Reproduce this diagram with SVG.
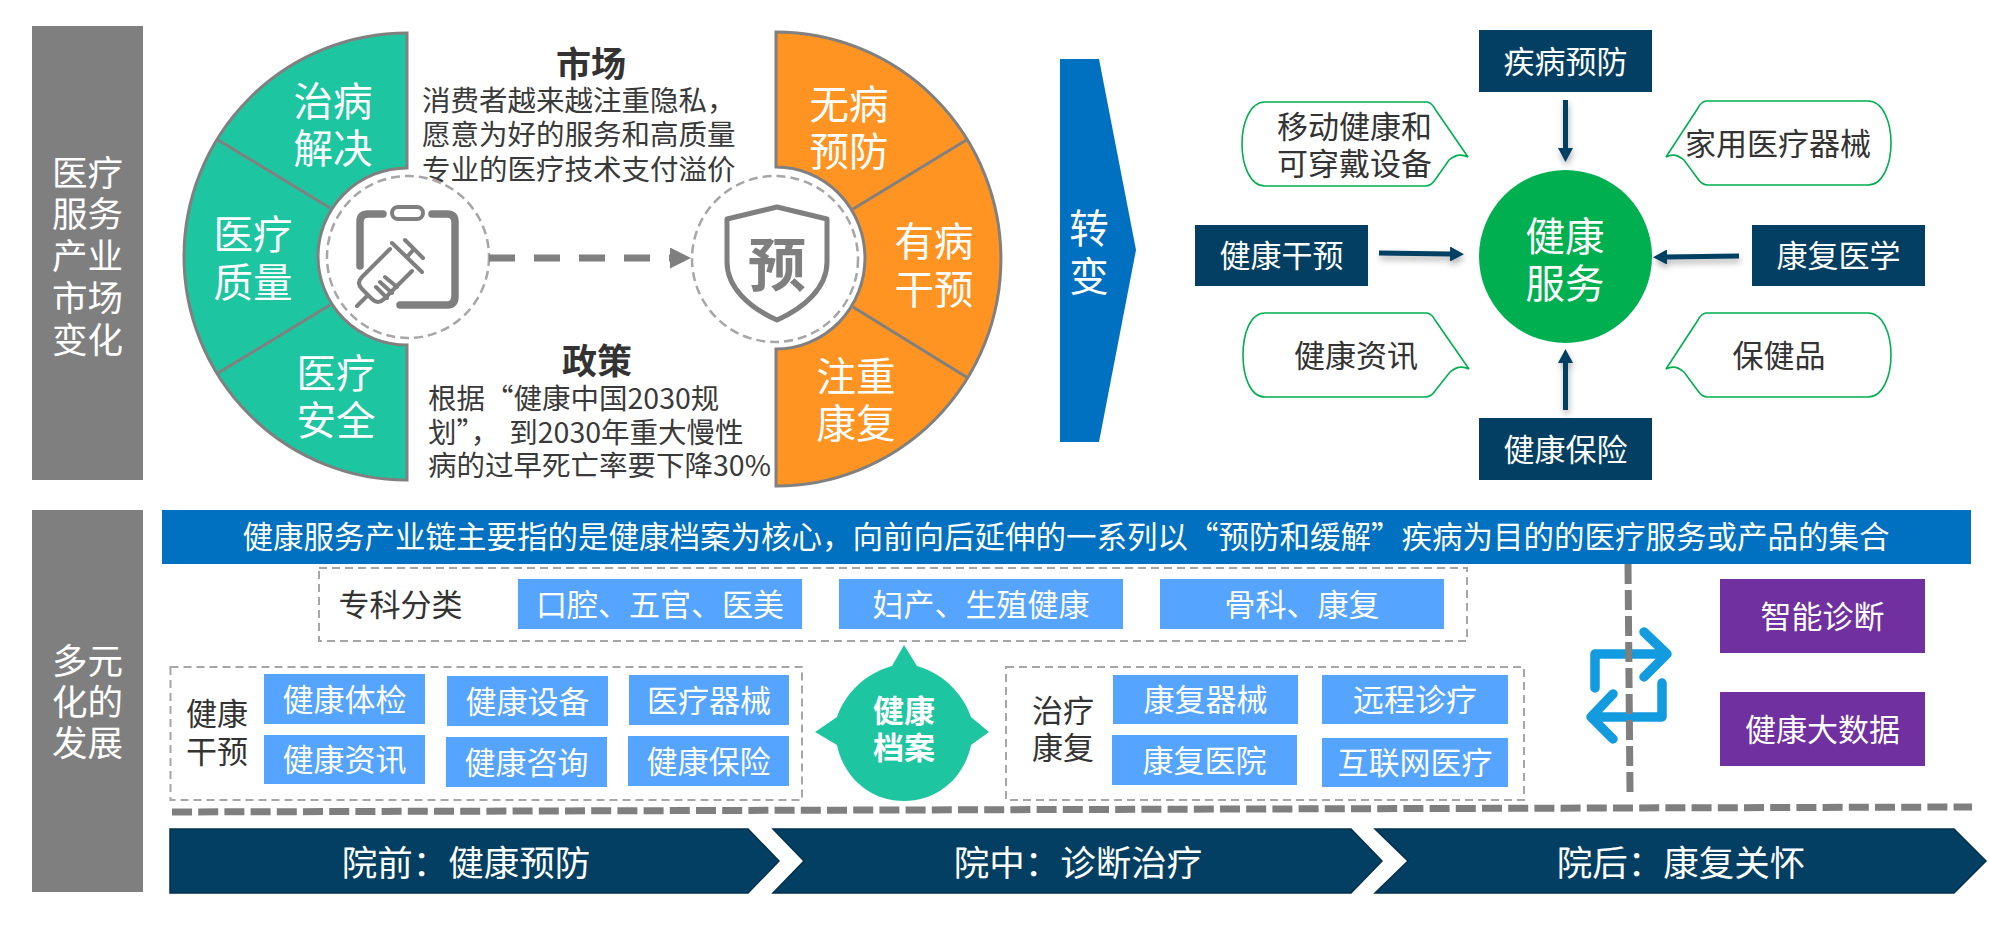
<svg xmlns="http://www.w3.org/2000/svg" width="1989" height="942" viewBox="0 0 1989 942">
<style>
text{font-family:"Noto Sans CJK SC","Noto Sans",sans-serif;text-anchor:middle;dominant-baseline:central;transform:translateY(-2px)}
.w{fill:#fff}.d{fill:#333}.l{text-anchor:start;fill:#3a3a3a;font-size:28.500px}
.f30{font-size:31px}.f34{font-size:35.500px}.f38{font-size:39.500px}
.side{fill:#7f7f7f}
.navy{fill:#033f62}
.chev{fill:#033f62;stroke:#02304d;stroke-width:1.500}
.blue{fill:#55a4ff}
.purple{fill:#7030a0}
.fan{stroke:#808080;stroke-width:3}
.ring{fill:#fff;stroke:#a6a6a6;stroke-width:2.500;stroke-dasharray:9 5}
.box{fill:none;stroke:#a6a6a6;stroke-width:2;stroke-dasharray:8 5}
.bub{fill:#fff;stroke:#00b050;stroke-width:1.600}
.conn{stroke:#033f62;stroke-width:5;fill:none;marker-end:url(#ah);filter:url(#sh)}
.cyc{fill:none;stroke:#129cdf;stroke-width:9.500;stroke-linecap:round;stroke-linejoin:round}
.ico{fill:none;stroke:#7f7f7f;stroke-linecap:round;stroke-linejoin:round}
</style>
<defs>
<marker id="ah" markerUnits="userSpaceOnUse" markerWidth="14" markerHeight="15" refX="0" refY="7.500" orient="auto"><path d="M0 0L14 7.500L0 15z" fill="#033f62"/></marker>
<marker id="ag" markerUnits="userSpaceOnUse" markerWidth="21" markerHeight="21" refX="0" refY="10.500" orient="auto"><path d="M0 0L21 10.500L0 21z" fill="#7f7f7f"/></marker>
<filter id="sh" filterUnits="userSpaceOnUse" x="0" y="0" width="1989" height="942"><feDropShadow dx="1" dy="4" stdDeviation="3" flood-color="#000" flood-opacity=".3"/></filter>
</defs>
<rect width="1989" height="942" fill="#fff"/>

<g id="side-top"><rect class="side" x="32" y="26" width="111" height="454"/>
<text class="w f34" x="87.500" y="172">医疗</text><text class="w f34" x="87.500" y="213">服务</text><text class="w f34" x="87.500" y="255">产业</text><text class="w f34" x="87.500" y="297">市场</text><text class="w f34" x="87.500" y="339">变化</text></g>
<g id="side-bottom"><rect class="side" x="32" y="510" width="111" height="382"/>
<text class="w f34" x="87.500" y="660">多元</text><text class="w f34" x="87.500" y="701">化的</text><text class="w f34" x="87.500" y="742">发展</text></g>

<g id="fan-green">
<path class="fan" fill="#1dc6a0" d="M407 33A223 223.500 0 0 0 407 480V345A89 88.500 0 0 1 407 168Z"/>
<path class="fan" fill="none" d="M218 140L330 208M218 373L330 305"/>
<text class="w f38" x="333" y="100">治病</text><text class="w f38" x="333" y="147">解决</text>
<text class="w f38" x="253" y="233">医疗</text><text class="w f38" x="253" y="281">质量</text>
<text class="w f38" x="336" y="372">医疗</text><text class="w f38" x="336" y="419">安全</text>
</g>
<g id="fan-orange">
<path class="fan" fill="#ff9422" d="M776 32A225 227 0 0 1 776 486V349A88 90 0 0 0 776 167Z"/>
<path class="fan" fill="none" d="M968 139L853 209M968 378L853 307"/>
<text class="w f38" x="849" y="103">无病</text><text class="w f38" x="849" y="150">预防</text>
<text class="w f38" x="934" y="240">有病</text><text class="w f38" x="934" y="288">干预</text>
<text class="w f38" x="856" y="375">注重</text><text class="w f38" x="856" y="422">康复</text>
</g>

<g id="icon-syringe">
<circle class="ring" cx="408" cy="257" r="81"/>
<g class="ico" stroke-width="7.500"><path d="M360 266V222Q360 214 368 214H383M432 214H447Q455 214 455 222V296Q455 305 447 305H400"/></g>
<g class="ico" stroke-width="4"><rect x="392" y="207" width="31" height="12" rx="6"/>
<path d="M390 249L362 277Q356 283 362 289L372 299Q378 305 384 299L412 271M392 243L422 272M405 240L423 258M407 257L414 249M357 306L368 295M385 277L397 287M380 282L392 293M376 287L387 298"/></g>
</g>
<g id="icon-shield">
<circle class="ring" cx="775" cy="259" r="83"/>
<path class="ico" stroke-width="5" d="M777 207L727 219V262C727 288 750 308 777 320C804 308 827 288 827 262V219Z"/>
<text x="777" y="263" font-size="58" font-weight="700" fill="#7f7f7f">预</text>
</g>

<g id="text-market">
<text class="d" x="591" y="63" font-size="35" font-weight="700">市场</text>
<text class="l" x="422" y="100">消费者越来越注重隐私，</text><text class="l" x="422" y="134">愿意为好的服务和高质量</text><text class="l" x="422" y="169">专业的医疗技术支付溢价</text>
</g>
<g id="text-policy">
<text class="d" x="597" y="360" font-size="35" font-weight="700">政策</text>
<text class="l" x="428" y="398">根据“健康中国2030规</text><text class="l" x="428" y="432">划”，<tspan dx="10">到2030年重大慢性</tspan></text><text class="l" x="428" y="465">病的过早死亡率要下降30%</text>
</g>

<g id="shift-arrow"><path fill="#0070c0" d="M1060 59H1099L1136 250L1099 442H1060Z"/>
<text class="w f38" x="1089" y="227">转</text><text class="w f38" x="1089" y="275">变</text></g>

<g id="n-health-service"><circle cx="1565.500" cy="256.500" r="86.500" fill="#00b050"/><text class="w f38" x="1565" y="235">健康</text><text class="w f38" x="1565" y="282">服务</text></g>
<g id="n-prevent"><rect class="navy" x="1479" y="30" width="173" height="62"/><text class="w f30" x="1565.500" y="61">疾病预防</text></g>
<g id="n-insurance"><rect class="navy" x="1479" y="418" width="173" height="62"/><text class="w f30" x="1565.500" y="449">健康保险</text></g>
<g id="n-intervene"><rect class="navy" x="1195" y="225" width="173" height="61"/><text class="w f30" x="1281.500" y="255">健康干预</text></g>
<g id="n-rehab"><rect class="navy" x="1752" y="225" width="173" height="61"/><text class="w f30" x="1838.500" y="255">康复医学</text></g>
<g id="b-mobile"><path class="bub" d="M1265 102H1427Q1432 103 1435 109L1468 157Q1458 152 1449 160L1435 180Q1431 186 1425 186H1265C1250 186 1242 165 1242 144C1242 123 1250 102 1265 102Z"/><text class="d f30" x="1354.500" y="126">移动健康和</text><text class="d f30" x="1354.500" y="163">可穿戴设备</text></g>
<g id="b-home"><path class="bub" d="M1868 101H1706Q1701 102 1698 108L1666 157Q1675 152 1684 160L1698 179Q1702 185 1708 185H1868C1883 185 1891 164 1891 143C1891 122 1883 101 1868 101Z"/><text class="d f30" x="1778" y="143">家用医疗器械</text></g>
<g id="b-info"><path class="bub" d="M1265 313H1427Q1432 314 1435 320L1469 369Q1459 364 1450 372L1435 391Q1431 397 1425 397H1265C1250 397 1243 376 1243 355C1243 334 1250 313 1265 313Z"/><text class="d f30" x="1356" y="355">健康资讯</text></g>
<g id="b-supp"><path class="bub" d="M1868 313H1706Q1701 314 1698 320L1666 369Q1675 364 1684 372L1698 391Q1702 397 1708 397H1868C1883 397 1891 376 1891 355C1891 334 1883 313 1868 313Z"/><text class="d f30" x="1779" y="355">保健品</text></g>

<g id="connectors">
<path d="M489 258H670" fill="none" stroke="#7f7f7f" stroke-width="7" stroke-dasharray="26 19" marker-end="url(#ag)"/>
<path class="conn" d="M1565.500 100V148"/>
<path class="conn" d="M1565.500 410V363"/>
<path class="conn" d="M1379 253L1450 254"/>
<path class="conn" d="M1739 256L1667 257"/>
</g>

<g id="banner"><rect x="162" y="510" width="1809" height="54" fill="#0070c0"/>
<text class="w" x="1066" y="537" font-size="30.500">健康服务产业链主要指的是健康档案为核心，向前向后延伸的一系列以“预防和缓解”疾病为目的的医疗服务或产品的集合</text></g>

<g id="group-specialty"><rect class="box" x="319" y="568" width="1148" height="73"/>
<text class="d f30" x="400.500" y="604">专科分类</text>
<rect class="blue" x="518" y="579" width="284" height="50"/><text class="w f30" x="660" y="604">口腔、五官、医美</text>
<rect class="blue" x="839" y="579" width="284" height="50"/><text class="w f30" x="981" y="604">妇产、生殖健康</text>
<rect class="blue" x="1160" y="579" width="284" height="50"/><text class="w f30" x="1302" y="604">骨科、康复</text></g>

<g id="group-intervene"><rect class="box" x="170.500" y="667" width="631.500" height="133"/>
<text class="d f30" x="217" y="713">健康</text><text class="d f30" x="217" y="751">干预</text>
<rect class="blue" x="264" y="674" width="161" height="50"/><text class="w f30" x="344.500" y="699">健康体检</text>
<rect class="blue" x="447" y="676" width="161" height="50"/><text class="w f30" x="527.500" y="701">健康设备</text>
<rect class="blue" x="629" y="675" width="160" height="50"/><text class="w f30" x="709" y="700">医疗器械</text>
<rect class="blue" x="264" y="735" width="161" height="49"/><text class="w f30" x="344.500" y="759">健康资讯</text>
<rect class="blue" x="446" y="737" width="161" height="50"/><text class="w f30" x="526.500" y="762">健康咨询</text>
<rect class="blue" x="628" y="736" width="161" height="50"/><text class="w f30" x="708.500" y="761">健康保险</text></g>

<g id="n-record"><path fill="#1dc6a0" d="M892 666L904 645L917 666C950 676 965 700 971 717L989 732L971 745C965 775 940 801 904 801C868 801 843 775 837 745L815 732L837 717C843 700 858 676 892 666Z"/>
<text class="w f30" font-weight="700" x="904" y="710">健康</text><text class="w f30" font-weight="700" x="904" y="747">档案</text></g>

<g id="group-treat"><rect class="box" x="1006" y="667" width="518" height="133"/>
<text class="d f30" x="1063" y="710">治疗</text><text class="d f30" x="1063" y="747">康复</text>
<rect class="blue" x="1113" y="675" width="185" height="49"/><text class="w f30" x="1205.500" y="699">康复器械</text>
<rect class="blue" x="1322" y="675" width="186" height="49"/><text class="w f30" x="1415" y="699">远程诊疗</text>
<rect class="blue" x="1112" y="735" width="185" height="50"/><text class="w f30" x="1204.500" y="760">康复医院</text>
<rect class="blue" x="1322" y="738" width="186" height="49"/><text class="w f30" x="1415" y="762">互联网医疗</text></g>

<g id="cycle-icon" class="cyc"><path d="M1595 688V654H1667M1644 632L1667 654L1644 677"/><path d="M1662 683V717H1591M1613 694L1591 717L1613 739"/></g>
<g id="dividers" fill="none" stroke="#7f7f7f" stroke-width="7"><path stroke-dasharray="20 6" d="M1628 564L1630 793"/><path stroke-dasharray="20 6.200" d="M172 812L1972 807"/></g>

<g id="n-smart"><rect class="purple" x="1720" y="579" width="205" height="74"/><text class="w f30" x="1822.500" y="616">智能诊断</text></g>
<g id="n-bigdata"><rect class="purple" x="1720" y="692" width="205" height="74"/><text class="w f30" x="1822.500" y="729">健康大数据</text></g>

<g id="stage-1"><path class="chev" d="M170 829H748L779 861L748 893H170Z"/><text class="w f34" x="466" y="862">院前：健康预防</text></g>
<g id="stage-2"><path class="chev" d="M773 829H1351L1382 861L1351 893H773L804 861Z"/><text class="w f34" x="1078" y="862">院中：诊断治疗</text></g>
<g id="stage-3"><path class="chev" d="M1375 829H1954L1986 861L1954 893H1375L1408 861Z"/><text class="w f34" x="1681" y="862">院后：康复关怀</text></g>
</svg>
